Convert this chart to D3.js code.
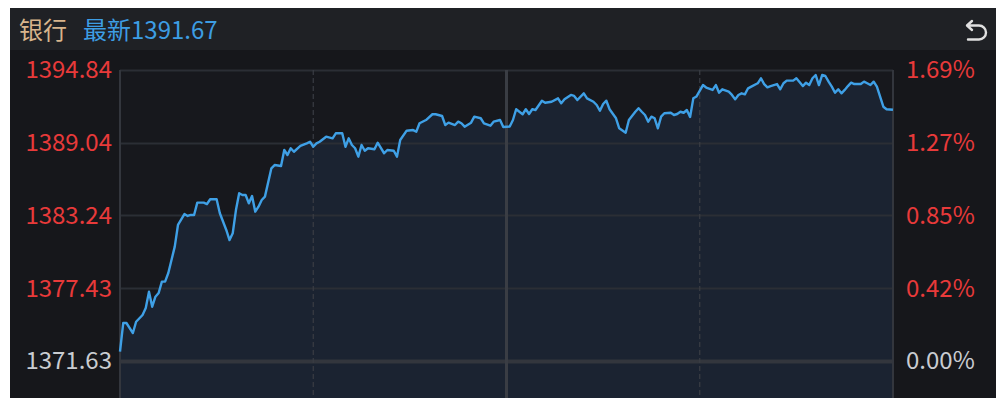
<!DOCTYPE html>
<html>
<head>
<meta charset="utf-8">
<script src="https://cdn.jsdelivr.net/npm/d3@7"></script>
<style>
  body { margin: 0; background: #ffffff; }
  text { font-family: "Noto Sans CJK SC", "Noto Sans", sans-serif; }
</style>
</head>
<body>
<script>
// Minute index (0 = 9:30, 120 = 11:30/13:00, 240 = 15:00) and index price
var minutes = [0, 1, 2, 4, 5, 7, 8, 9, 10, 11, 12, 13, 14, 15, 17, 18, 20, 21, 22, 23,
    24, 26, 27, 28, 30, 31, 33, 34, 35, 36, 37, 38, 39, 40, 41, 42, 43, 44, 45, 47,
    48, 50, 51, 52, 53, 54, 56, 58, 59, 60, 61, 62, 64, 66, 67, 69, 70, 71, 72, 73,
    74, 75, 76, 77, 79, 80, 82, 83, 85, 86, 87, 89, 91, 92, 93, 95, 97, 98, 100, 101,
    102, 104, 105, 106, 107, 109, 110, 112, 113, 115, 116, 118, 119, 121, 122, 123, 124, 125, 126, 127,
    128, 129, 131, 132, 134, 136, 137, 138, 140, 141, 142, 144, 145, 147, 148, 149, 150, 151, 152, 154,
    155, 157, 158, 160, 161, 162, 163, 164, 165, 166, 167, 168, 169, 171, 172, 173, 174, 175, 176, 177,
    178, 179, 181, 182, 184, 185, 186, 187, 189, 190, 191, 192, 193, 194, 195, 196, 198, 199, 200, 201,
    202, 204, 205, 206, 207, 209, 210, 212, 213, 214, 215, 216, 217, 218, 219, 220, 221, 222, 223, 224,
    225, 226, 227, 228, 230, 231, 232, 233, 234, 235, 236, 237, 238, 240];

var prices = [1372.37, 1374.66, 1374.66, 1373.86, 1374.76, 1375.30, 1375.86, 1377.16, 1375.96, 1376.76,
    1377.05, 1377.96, 1377.96, 1378.65, 1380.75, 1382.48, 1383.35, 1383.20, 1383.28, 1383.28,
    1384.26, 1384.26, 1384.15, 1384.53, 1384.53, 1383.41, 1382.08, 1381.28, 1381.82, 1383.67,
    1385.01, 1384.87, 1384.87, 1384.21, 1384.79, 1383.54, 1383.94, 1384.47, 1384.74, 1387.00,
    1387.26, 1387.18, 1388.46, 1388.06, 1388.60, 1388.32, 1388.78, 1388.99, 1389.12, 1388.72,
    1388.99, 1389.12, 1389.52, 1389.39, 1389.79, 1389.79, 1388.72, 1389.39, 1388.86, 1388.60,
    1387.93, 1388.86, 1388.40, 1388.60, 1388.52, 1389.04, 1388.20, 1388.46, 1388.40, 1387.93,
    1389.26, 1390.00, 1390.05, 1389.92, 1390.59, 1390.85, 1391.31, 1391.31, 1391.17, 1390.45,
    1390.64, 1390.45, 1390.72, 1390.59, 1390.32, 1390.64, 1391.12, 1390.99, 1390.59, 1390.40,
    1390.72, 1390.85, 1390.29, 1390.33, 1390.85, 1391.71, 1391.51, 1391.31, 1391.71, 1391.33,
    1391.71, 1391.65, 1392.39, 1392.23, 1392.31, 1392.58, 1392.18, 1392.50, 1392.85, 1392.77,
    1392.45, 1392.98, 1392.58, 1392.31, 1392.05, 1391.59, 1392.13, 1392.39, 1391.71, 1390.99,
    1390.19, 1389.84, 1390.85, 1391.51, 1391.79, 1391.51, 1391.25, 1390.72, 1391.12, 1390.99,
    1390.19, 1391.12, 1391.39, 1391.43, 1391.25, 1391.33, 1391.51, 1391.43, 1391.65, 1391.09,
    1392.58, 1392.73, 1393.64, 1393.44, 1393.25, 1393.64, 1393.03, 1393.30, 1393.11, 1392.85,
    1392.50, 1392.85, 1392.98, 1392.90, 1393.38, 1393.51, 1393.78, 1394.18, 1393.72, 1393.46,
    1393.56, 1393.72, 1393.30, 1393.78, 1393.99, 1393.99, 1394.18, 1393.56, 1393.83, 1393.64,
    1394.18, 1394.44, 1393.64, 1394.44, 1394.36, 1393.91, 1393.51, 1393.03, 1393.30, 1392.98,
    1393.25, 1393.56, 1393.83, 1393.72, 1393.72, 1393.91, 1393.78, 1393.64, 1393.91, 1393.51,
    1392.71, 1391.91, 1391.71, 1391.67];

// Axis labels
var priceTicks = [1394.84, 1389.04, 1383.24, 1377.43, 1371.63],
    priceLabels = ["1394.84", "1389.04", "1383.24", "1377.43", "1371.63"],
    pctLabels = ["1.69%", "1.27%", "0.85%", "0.42%", "0.00%"],
    timeGrid = [60, 120, 180];

var title = "银行",
    latest = "最新1391.67";

// Layout
var W = 1002, H = 404,
    panel = { left: 10, top: 8, right: 996, bottom: 398 },
    plot = { left: 120, top: 70, right: 893, base: 361 };

var svg = d3.select("body").
            append("svg").
            attr("width", W).
            attr("height", H);

// Scales
var x = d3.scaleLinear().domain([0, 240]).range([plot.left, plot.right]);
var y = d3.scaleLinear().domain([1371.63, 1394.84]).range([plot.base, plot.top]);

// Backgrounds
svg.append("rect").
    attr("x", panel.left).attr("y", panel.top).
    attr("width", panel.right - panel.left).attr("height", panel.bottom - panel.top).
    attr("fill", "#16171b");

svg.append("rect").
    attr("x", panel.left).attr("y", panel.top).
    attr("width", panel.right - panel.left).attr("height", 42).
    attr("fill", "#1f2125");

svg.append("rect").
    attr("x", plot.left).attr("y", plot.top).
    attr("width", plot.right - plot.left).attr("height", panel.bottom - plot.top).
    attr("fill", "#17181d");

// Area under line
var area = d3.area().
            x(function (d, i) { return x(minutes[i]); }).
            y0(panel.bottom).
            y1(function (d) { return y(d); });

svg.append("path").
    datum(prices).
    attr("d", area).
    attr("fill", "#1b2331");

// Horizontal grid
svg.selectAll("line.hgrid").
    data(priceTicks).
    enter().append("line").
    attr("class", "hgrid").
    attr("x1", plot.left).
    attr("x2", plot.right).
    attr("y1", function (d) { return Math.round(y(d)) + 0.5; }).
    attr("y2", function (d) { return Math.round(y(d)) + 0.5; }).
    attr("stroke", function (d, i) { return i == priceTicks.length - 1 ? "#33363d" : "#2b2e35"; }).
    attr("stroke-width", function (d, i) { return i == priceTicks.length - 1 ? 4 : 2; });

// Vertical grid
svg.selectAll("line.vgrid").
    data(timeGrid).
    enter().append("line").
    attr("class", "vgrid").
    attr("x1", function (d) { return x(d); }).
    attr("x2", function (d) { return x(d); }).
    attr("y1", plot.top).
    attr("y2", panel.bottom).
    attr("stroke", "#3a3d44").
    attr("stroke-width", function (d) { return d == 120 ? 3 : 1.2; }).
    attr("stroke-dasharray", function (d) { return d == 120 ? null : "5,3"; });

// Plot border (left, right)
[plot.left, plot.right].forEach(function (px) {
    svg.append("line").
        attr("x1", px).attr("x2", px).
        attr("y1", plot.top).attr("y2", panel.bottom).
        attr("stroke", "#33363d").
        attr("stroke-width", 2);
});

// Price line
var line = d3.line().
            x(function (d, i) { return x(minutes[i]); }).
            y(function (d) { return y(d); });

svg.append("path").
    datum(prices).
    attr("d", line).
    attr("fill", "none").
    attr("stroke", "#3fa0e6").
    attr("stroke-width", 2.4).
    attr("stroke-linejoin", "round");

// Left labels
svg.selectAll("text.pl").
    data(priceTicks).
    enter().append("text").
    attr("class", "pl").
    attr("x", 112).
    attr("y", function (d) { return y(d); }).
    attr("dy", "0.35em").
    attr("text-anchor", "end").
    attr("font-size", 24).
    attr("fill", function (d, i) { return i == priceTicks.length - 1 ? "#c9ccd1" : "#e83a3a"; }).
    text(function (d, i) { return priceLabels[i]; });

// Right labels
svg.selectAll("text.pr").
    data(priceTicks).
    enter().append("text").
    attr("class", "pr").
    attr("x", 906).
    attr("y", function (d) { return y(d); }).
    attr("dy", "0.35em").
    attr("text-anchor", "start").
    attr("font-size", 24).
    attr("fill", function (d, i) { return i == priceTicks.length - 1 ? "#c9ccd1" : "#e83a3a"; }).
    text(function (d, i) { return pctLabels[i]; });

// Header
svg.append("text").
    attr("x", 19).attr("y", 31).
    attr("dy", "0.35em").
    attr("font-size", 24).
    attr("fill", "#d8b58c").
    text(title);

svg.append("text").
    attr("x", 83).attr("y", 31).
    attr("dy", "0.35em").
    attr("font-size", 24).
    attr("fill", "#3d9de3").
    text(latest);

// Back icon
svg.append("path").
    attr("d", "M972,21 L967,25.5 L972,30 M967.5,25.5 L979,25.5 A7,7 0 0 1 979,39.5 L968,39.5").
    attr("fill", "none").
    attr("stroke", "#e0e0e0").
    attr("stroke-width", 2.4).
    attr("stroke-linecap", "round").
    attr("stroke-linejoin", "round");
</script>
</body>
</html>
